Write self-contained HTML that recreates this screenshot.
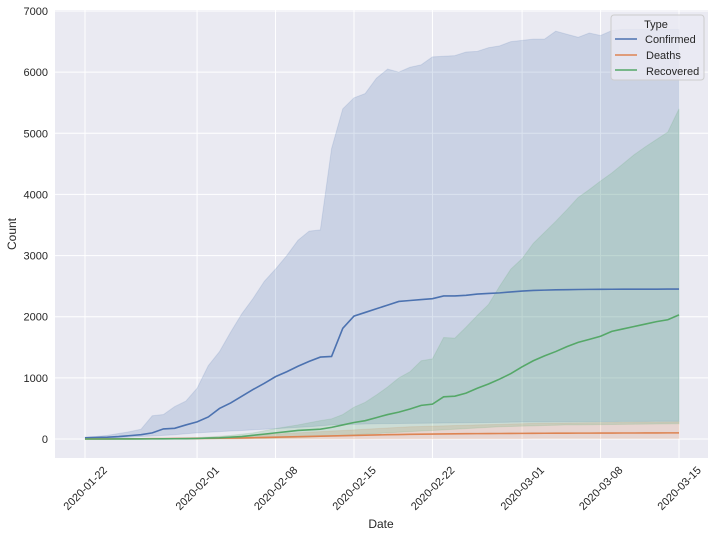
<!DOCTYPE html>
<html><head><meta charset="utf-8"><style>
body{margin:0;background:#fff;}
svg{display:block;font-family:"Liberation Sans","DejaVu Sans",sans-serif;}
</style></head><body>
<svg id="chart" width="715" height="537">
<rect x="55" y="10" width="653" height="448" fill="#eaeaf2"/>
<g id="grid"></g><g id="bands"></g><g id="lines"></g><g id="axes"></g>
<g>
<rect x="611" y="15" width="93" height="65" rx="3" fill="#eaeaf2" fill-opacity="0.8" stroke="#cccccc"/>
<text x="656" y="28" font-size="11" text-anchor="middle" fill="#262626">Type</text>
<line x1="615" y1="39" x2="637" y2="39" stroke="#4c72b0" stroke-width="1.5"/>
<text x="645" y="43" font-size="11" fill="#262626">Confirmed</text>
<line x1="615" y1="55" x2="637" y2="55" stroke="#dd8452" stroke-width="1.5"/>
<text x="646" y="59" font-size="11" fill="#262626">Deaths</text>
<line x1="615" y1="70" x2="637" y2="70" stroke="#55a868" stroke-width="1.5"/>
<text x="646" y="75" font-size="11" fill="#262626">Recovered</text>
</g>
</svg>
<script>
const confirmed=[20,25,30,40,55,70,100,165,175,230,280,360,500,590,700,810,910,1020,1100,1190,1270,1340,1350,1810,2010,2070,2130,2190,2250,2265,2280,2295,2340,2340,2350,2370,2380,2390,2405,2420,2430,2435,2440,2442,2445,2447,2448,2449,2450,2450,2451,2451,2452,2452];
const confirmedHi=[30,40,60,90,120,160,380,400,530,620,830,1200,1430,1750,2050,2300,2580,2780,3000,3250,3400,3420,4750,5400,5580,5650,5900,6050,6000,6080,6120,6250,6260,6270,6330,6340,6400,6430,6500,6520,6540,6540,6670,6620,6570,6640,6600,6680,6700,6700,6700,6700,6700,6700];
const confirmedLo=[0,5,10,20,30,40,50,60,70,85,100,110,120,130,140,150,160,170,180,190,200,215,230,235,240,245,250,252,254,256,258,260,262,264,266,268,270,272,275,278,280,281,282,283,284,285,286,287,288,289,289,290,290,290];
const deaths=[0,1,1,2,3,4,5,6,7,8,10,12,14,16,18,22,26,30,34,38,42,46,50,54,58,62,66,70,73,76,79,81,83,85,87,88,89,90,91,92,93,94,95,95,96,96,97,97,98,98,99,99,100,100];
const deathsHi=[0,2,3,5,7,9,12,15,18,21,25,30,35,40,50,60,70,80,90,100,110,120,130,140,150,160,170,180,190,200,205,210,215,220,225,230,235,240,245,250,255,258,260,262,264,266,268,270,272,274,276,277,278,280];
const deathsLo=[0,0,0,0,0,0,0,0,0,0,0,1,1,1,2,2,2,3,3,3,4,4,4,5,5,5,6,6,6,7,7,7,8,8,8,8,9,9,9,9,10,10,10,10,10,10,10,10,10,10,10,10,10,10];
const recovered=[0,0,0,1,1,1,2,3,4,5,8,15,20,30,40,60,80,100,120,140,150,160,190,230,270,300,350,400,440,490,550,570,690,700,750,830,900,980,1070,1180,1280,1360,1430,1510,1580,1630,1680,1760,1800,1840,1880,1920,1950,2030];
const recoveredHi=[0,1,1,2,3,4,6,8,10,14,20,30,45,60,80,100,135,170,200,230,265,300,330,400,520,600,720,850,1000,1100,1280,1310,1660,1650,1830,2020,2200,2500,2780,2950,3200,3380,3560,3750,3950,4080,4220,4350,4500,4650,4780,4900,5020,5400];
const recoveredLo=[0,0,0,0,0,0,0,0,0,0,0,1,2,3,5,8,10,15,20,25,30,40,50,60,70,80,90,100,110,120,130,140,150,160,170,180,190,200,205,210,215,220,225,230,232,234,236,238,240,242,244,246,248,250];
const yTicks=[0,1000,2000,3000,4000,5000,6000,7000];
const xTickDays=[0,10,17,24,31,39,46,53];
const xTickLabels=["2020-01-22","2020-02-01","2020-02-08","2020-02-15","2020-02-22","2020-03-01","2020-03-08","2020-03-15"];

const NS="http://www.w3.org/2000/svg";
const X=d=>85+d*(679-85)/53;
const Y=v=>439-v*(439-11)/7000;
function mk(tag,attrs,parent){const e=document.createElementNS(NS,tag);for(const k in attrs)e.setAttribute(k,attrs[k]);document.getElementById(parent).appendChild(e);return e;}
yTicks.forEach(t=>{
 const l=mk('line',{x1:55,x2:708,y1:Y(t),y2:Y(t),stroke:'#fff','stroke-width':1},'grid');
 
 
 const tx=mk('text',{x:48,y:Y(t)+4,'text-anchor':'end','font-size':11,fill:'#262626'},'axes');
 tx.textContent=t;
 
 
});
xTickDays.forEach((d,i)=>{
 const l=mk('line',{x1:X(d),x2:X(d),y1:10,y2:458,stroke:'#fff','stroke-width':1},'grid');
 
 
 const cx=X(d),cy=488;
 const tx=mk('text',{x:cx,y:cy+4,'text-anchor':'middle','font-size':11,fill:'#262626',transform:`rotate(-45 ${cx} ${cy})`},'axes');
 tx.textContent=xTickLabels[i];
 
 
});
const series=[['confirmed',confirmed,confirmedHi,confirmedLo,'#4c72b0'],['deaths',deaths,deathsHi,deathsLo,'#dd8452'],['recovered',recovered,recoveredHi,recoveredLo,'#55a868']];
series.forEach(([n,m,hi,lo,c])=>{
 let p=hi.map((v,i)=>(i?'L':'M')+X(i)+','+Y(v)).join('');
 for(let i=lo.length-1;i>=0;i--)p+='L'+X(i)+','+Y(lo[i]);
 const b=mk('path',{d:p+'Z',fill:c,'fill-opacity':0.2,stroke:c,'stroke-opacity':0.15},'bands');
 
 
});
series.forEach(([n,m,hi,lo,c])=>{
 const l=mk('path',{d:m.map((v,i)=>(i?'L':'M')+X(i)+','+Y(v)).join(''),fill:'none',stroke:c,'stroke-width':1.6},'lines');
 
 
});
const xl=mk('text',{x:381,y:528,'text-anchor':'middle','font-size':12,fill:'#262626'},'axes');
xl.textContent='Date';


const yl=mk('text',{x:16,y:234,'text-anchor':'middle','font-size':12,fill:'#262626',transform:'rotate(-90 16 234)'},'axes');
yl.textContent='Count';


</script>
</body></html>
